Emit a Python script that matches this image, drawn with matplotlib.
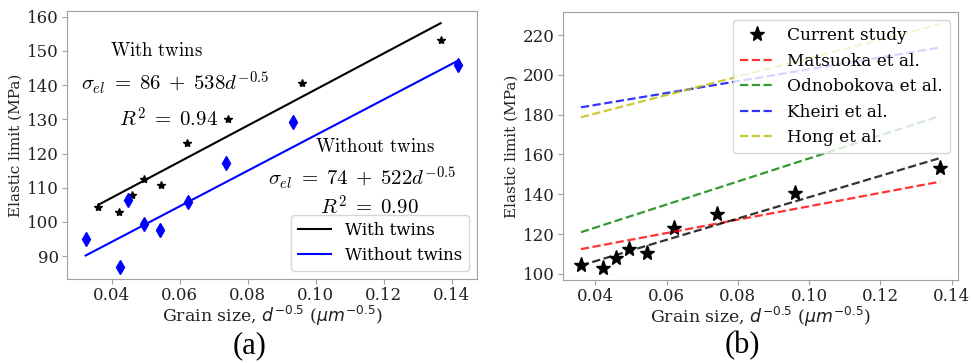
import numpy as np
import matplotlib
matplotlib.use('Agg')
import matplotlib.pyplot as plt

plt.rcParams['font.family'] = 'DejaVu Serif'
plt.rcParams['font.size'] = 12

# grain size d^-0.5 and elastic limit (MPa)
x_tw = [0.0361, 0.0421, 0.0459, 0.0495, 0.0546, 0.0622, 0.0741, 0.0959, 0.1367]
y_tw = [104.4, 103.0, 107.9, 112.6, 110.7, 123.2, 130.1, 140.5, 153.3]

x_notw = [0.0324, 0.0424, 0.0449, 0.0495, 0.0543, 0.0624, 0.0736, 0.0932, 0.1419]
y_notw = [94.9, 86.9, 106.5, 99.4, 97.8, 105.8, 117.2, 129.1, 146.0]

# fitted lines, read at both ends of each data range
fit_tw_y = [105.0, 158.1]
fit_notw_y = [90.2, 147.2]

# literature Hall-Petch lines, values at the ends of the grain size range
lit_x = [0.036, 0.1367]
lit_names = ['Matsuoka et al.', 'Odnobokova et al.', 'Kheiri et al.', 'Hong et al.']
lit_y = [[112.4, 146.3], [120.9, 179.3], [183.7, 213.8], [178.7, 225.5]]
lit_colors = ['r', 'g', 'b', 'y']

spine_col = '#a0a0a0'
xticks = [0.04, 0.06, 0.08, 0.10, 0.12, 0.14]


def style_axes(ax):
    for s in ax.spines.values():
        s.set_color(spine_col)
    ax.tick_params(color=spine_col, labelcolor='#222222', labelsize=12, pad=2.5)
    ax.set_xlabel(r'Grain size, $d^{-0.5}$ ($\mu m^{-0.5}$)', color='#222222',
                  fontsize=12.5, labelpad=0)
    ax.set_ylabel('Elastic limit (MPa)', color='#222222', fontsize=11, labelpad=3)


fig = plt.figure(figsize=(9.73, 3.63), dpi=100)
ax1 = fig.add_axes([67 / 973, 84 / 363, 410 / 973, 268 / 363])
ax2 = fig.add_axes([563 / 973, 83 / 363, 395 / 973, 268 / 363])

# ---- (a) ----
ax1.plot([min(x_tw), max(x_tw)], fit_tw_y, color='k', lw=1.5, label='With twins')
ax1.plot([min(x_notw), max(x_notw)], fit_notw_y, color='b', lw=1.5, label='Without twins')
ax1.plot(x_tw, y_tw, '*', color='k', ms=6)
ax1.plot(x_notw, y_notw, 'd', color='b', ms=7)

lab = dict(ha='center', va='center', fontsize=13.5, math_fontfamily='cm')
eq = dict(ha='center', va='center', fontsize=15, math_fontfamily='cm')
ax1.text(0.0532, 150.1, r'$\mathrm{With\ twins}$', **lab)
ax1.text(0.0586, 140.5, r'$\sigma_{el}\;=\;86\;+\;538d^{-0.5}$', **eq)
ax1.text(0.0567, 130.3, r'$R^2\;=\;0.94$', **eq)
ax1.text(0.1173, 121.9, r'$\mathrm{Without\ twins}$', **lab)
ax1.text(0.1136, 112.9, r'$\sigma_{el}\;=\;74\;+\;522d^{-0.5}$', **eq)
ax1.text(0.1157, 104.4, r'$R^2\;=\;0.90$', **eq)

ax1.set_xticks(xticks)
ax1.set_yticks(range(90, 161, 10))
ax1.legend(loc='lower right', fontsize=12)
style_axes(ax1)

# ---- (b) ----
ax2.plot(x_tw, y_tw, '*', color='k', ms=11, label='Current study')
for name, ys, c in zip(lit_names, lit_y, lit_colors):
    ax2.plot(lit_x, ys, '--', color=c, lw=1.6, alpha=0.8, label=name)
ax2.plot(lit_x, [104.2, 158.2], '--', color='k', lw=1.6, alpha=0.8)
ax2.set_xticks(xticks)
ax2.set_yticks(range(100, 221, 20))
ax2.legend(loc='upper right', fontsize=12.2, borderaxespad=0.5)
style_axes(ax2)

fig.text(250 / 973, 1 - 346 / 363, '(a)', ha='center', va='center',
         fontsize=22, family='Liberation Serif')
fig.text(742 / 973, 1 - 346 / 363, '(b)', ha='center', va='center',
         fontsize=22, family='Liberation Serif')

fig.savefig('out.png', dpi=100)
